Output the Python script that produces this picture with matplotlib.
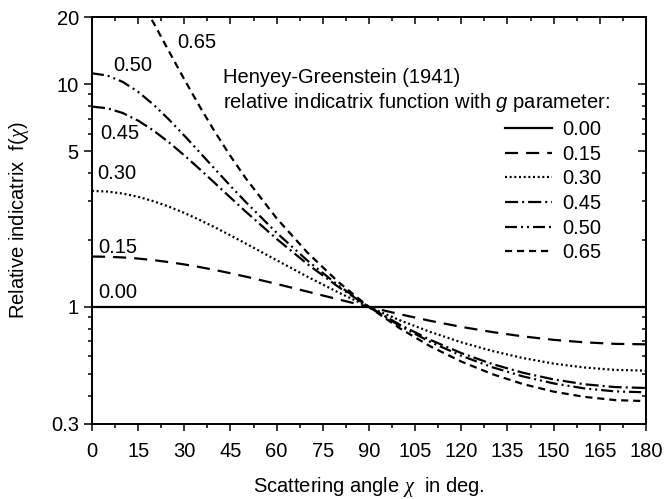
import matplotlib
matplotlib.use("Agg")
import matplotlib.pyplot as plt
from matplotlib.ticker import FixedLocator, NullFormatter, FixedFormatter

plt.rcParams['font.family'] = ['Liberation Sans', 'DejaVu Sans']
plt.rcParams['mathtext.fontset'] = 'custom'
plt.rcParams['mathtext.it'] = 'Liberation Serif:italic'
plt.rcParams['mathtext.rm'] = 'Liberation Sans'
plt.rcParams['mathtext.sf'] = 'Liberation Sans:italic'

# scattering angle (deg) and relative indicatrix values
chi = [0, 5, 10, 15, 20, 25, 30, 35, 40, 45, 50, 60, 70, 80, 90,
       100, 110, 120, 130, 140, 150, 160, 170, 180]
f_000 = [1.0, 1.0, 1.0, 1.0, 1.0, 1.0, 1.0, 1.0, 1.0, 1.0, 1.0, 1.0, 1.0, 1.0, 1.0,
         1.0, 1.0, 1.0, 1.0, 1.0, 1.0, 1.0, 1.0, 1.0]
f_015 = [1.684, 1.680, 1.668, 1.649, 1.622, 1.590, 1.552, 1.510, 1.465, 1.417, 1.368,
         1.269, 1.172, 1.082, 1.000, 0.928, 0.866, 0.814, 0.772, 0.738, 0.712, 0.694, 0.683, 0.680]
f_030 = [3.318, 3.295, 3.227, 3.121, 2.982, 2.819, 2.642, 2.458, 2.274, 2.095, 1.925,
         1.621, 1.367, 1.163, 1.000, 0.872, 0.772, 0.694, 0.635, 0.590, 0.557, 0.535, 0.522, 0.518]
f_045 = [7.926, 7.793, 7.417, 6.857, 6.188, 5.481, 4.791, 4.155, 3.588, 3.096, 2.675,
         2.020, 1.558, 1.232, 1.000, 0.833, 0.711, 0.621, 0.555, 0.507, 0.473, 0.450, 0.437, 0.433]
f_050 = [11.18, 10.93, 10.23, 9.231, 8.085, 6.936, 5.873, 4.942, 4.151, 3.494, 2.954,
         2.152, 1.615, 1.251, 1.000, 0.823, 0.696, 0.604, 0.537, 0.488, 0.454, 0.431, 0.418, 0.414]
f_065 = [39.57, 37.29, 31.62, 24.91, 18.84, 14.05, 10.50, 7.934, 6.087, 4.752, 3.774,
         2.499, 1.754, 1.296, 1.000, 0.802, 0.665, 0.569, 0.500, 0.451, 0.417, 0.395, 0.382, 0.378]

g_labels = ['0.00', '0.15', '0.30', '0.45', '0.50', '0.65']
curves = [f_000, f_015, f_030, f_045, f_050, f_065]
styles = ['-', (0, (5.9, 3.6)), (0, (0.9, 1.2)), (0, (5.9, 1.8, 0.9, 1.8)),
          (0, (5.4, 1.8, 0.9, 1.8, 0.9, 1.8)), (0, (3.2, 2.2))]
# where the g value is written next to each curve (deg, f)
label_pos = [(8.4, 1.163), (8.4, 1.85), (8.1, 3.98), (9.1, 6.02), (13.3, 12.17), (34.1, 15.3)]

x_major = [0, 15, 30, 45, 60, 75, 90, 105, 120, 135, 150, 165, 180]
x_minor = [7.5, 22.5, 37.5, 52.5, 67.5, 82.5, 97.5, 112.5, 127.5, 142.5, 157.5, 172.5]
y_major = [0.3, 1, 5, 10, 20]
y_major_text = ['0.3', '1', '5', '10', '20']
y_minor = [0.4, 0.5, 0.6, 0.7, 0.8, 0.9, 2, 3, 4, 6, 7, 8, 9]

fs = 14.5
fig = plt.figure(figsize=(6.65, 4.99), dpi=100)
ax = fig.add_axes([0.1383, 0.1513, 0.8331, 0.8146])

for vals, ls, lab in zip(curves, styles, g_labels):
    ax.plot(chi, vals, color='black', lw=1.6, linestyle=ls, label=lab)

for (px, py), lab in zip(label_pos, g_labels):
    ax.text(px, py, lab, fontsize=fs, ha='center', va='center')

ax.text(42.6, 10.75, 'Henyey-Greenstein (1941)', fontsize=fs, va='center', ha='left')
ax.text(42.6, 8.3, r'relative indicatrix function with $\mathsf{g}$ parameter:',
        fontsize=fs, va='center', ha='left')

ax.set_yscale('log')
ax.set_xlim(0, 180)
ax.set_ylim(0.3, 20)

ax.xaxis.set_major_locator(FixedLocator(x_major))
ax.xaxis.set_minor_locator(FixedLocator(x_minor))
ax.yaxis.set_major_locator(FixedLocator(y_major))
ax.yaxis.set_major_formatter(FixedFormatter(y_major_text))
ax.yaxis.set_minor_locator(FixedLocator(y_minor))
ax.yaxis.set_minor_formatter(NullFormatter())

ax.tick_params(axis='x', which='major', direction='out', length=5, width=1.1, pad=8.5, labelsize=fs)
ax.tick_params(axis='x', which='minor', direction='out', length=3, width=1.1)
ax.tick_params(axis='y', which='major', direction='out', length=5.5, width=1.1, pad=4, labelsize=fs)
ax.tick_params(axis='y', which='minor', direction='out', length=3, width=1.1)

# inward ticks on the top and right sides
top = ax.secondary_xaxis('top')
top.xaxis.set_major_locator(FixedLocator(x_major))
top.xaxis.set_minor_locator(FixedLocator(x_minor))
top.xaxis.set_major_formatter(NullFormatter())
top.tick_params(which='major', direction='in', length=5, width=1.1)
top.tick_params(which='minor', direction='in', length=3, width=1.1)
right = ax.secondary_yaxis('right')
right.yaxis.set_major_locator(FixedLocator(y_major))
right.yaxis.set_minor_locator(FixedLocator(y_minor))
right.yaxis.set_major_formatter(NullFormatter())
right.yaxis.set_minor_formatter(NullFormatter())
right.tick_params(which='major', direction='in', length=5.5, width=1.1)
right.tick_params(which='minor', direction='in', length=3, width=1.1)
for sp in list(ax.spines.values()) + [top.spines['top'], right.spines['right']]:
    sp.set_linewidth(1.4)

ax.set_xlabel(r'Scattering angle $\chi$  in deg.', fontsize=fs)
ax.set_ylabel(r'Relative indicatrix  f($\chi$)', fontsize=fs)
ax.xaxis.set_label_coords(0.5, -0.127)
ax.yaxis.set_label_coords(-0.11, 0.5)

ax.legend(loc='upper left', bbox_to_anchor=(0.7455, 0.7465), frameon=False, fontsize=fs,
          handlelength=2.34, handletextpad=0.5, labelspacing=0.28, borderpad=0, borderaxespad=0)

fig.savefig('out.png', dpi=100)
